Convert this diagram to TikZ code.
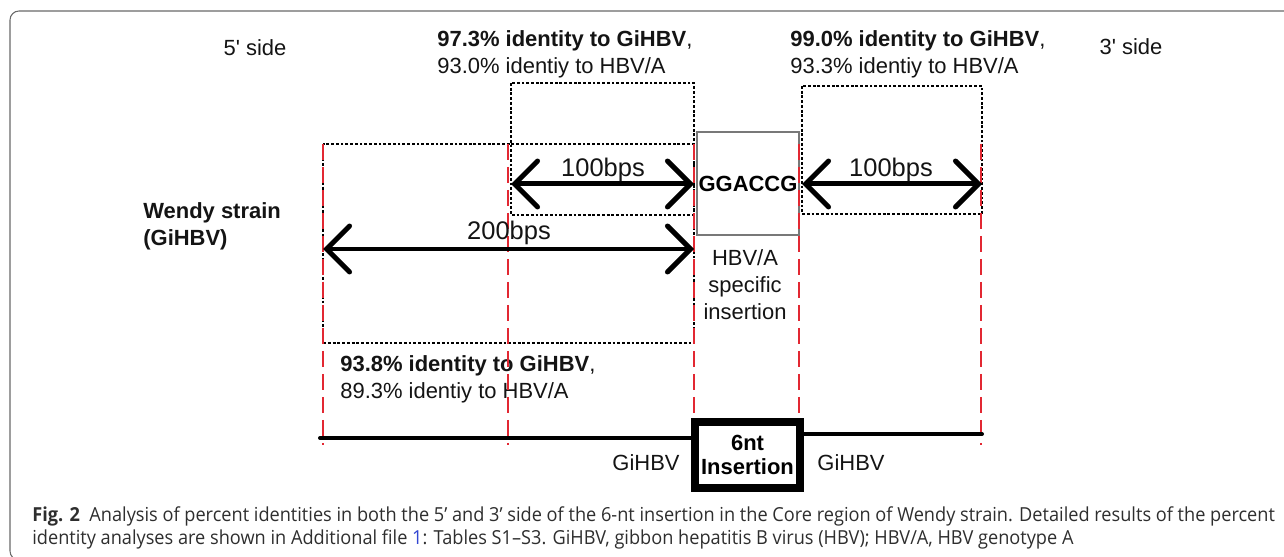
\documentclass[tikz,border=0pt]{standalone}
\usepackage{fontspec}
\setmainfont{Liberation Sans}
\newfontfamily\capfont[FakeStretch=0.94]{Open Sans}
\usetikzlibrary{arrows.meta}

\definecolor{cutred}{RGB}{226,40,50}
\definecolor{framegray}{RGB}{105,105,105}
\definecolor{boxgray}{RGB}{120,120,120}
\definecolor{linkblue}{RGB}{50,70,210}

\begin{document}
\begin{tikzpicture}[x=0.02cm,y=-0.02cm,
    lbl/.style={font=\fontsize{12.5}{15.3}\selectfont, inner sep=0pt, align=left, text=black!92},
    bplbl/.style={font=\fontsize{14.5}{16}\selectfont, inner sep=0pt, text=black!92},
    region/.style={draw, line width=0.7pt, dash pattern=on 1.6pt off 1.1pt},
    cut/.style={draw=cutred, line width=1.1pt, dash pattern=on 0.32cm off 0.14cm},
    span/.style={line width=0.1cm, line cap=round,
      {Straight Barb[length=0.46cm, width=0.92cm, line cap=round]}-{Straight Barb[length=0.46cm, width=0.92cm, line cap=round]}},
    genome/.style={line width=0.08cm, line cap=round}]
  \useasboundingbox (0,0) rectangle (1284,557);
  \begin{scope}
    \clip (0,0) rectangle (1284,557);
    \draw[framegray, line width=0.6pt, rounded corners=0.18cm] (1300,11) -- (10,11) -- (10,560) -- (40,560);
  \end{scope}

  % side labels
  \node[lbl] (five) at (255,48) {5\textquotesingle{} side};
  \node[lbl] (three) at (1131,47) {3\textquotesingle{} side};
  \node[lbl, anchor=west] (wendy) at (143,226) {\textbf{Wendy strain}\\\textbf{(GiHBV)}};

  % compared regions
  \draw[region] (511,83) rectangle (694,215);
  \draw[region] (323,144) rectangle (694,343);
  \draw[region] (802,86) rectangle (982,214);
  \node[lbl, anchor=west] (idA) at (437,54) {\textbf{97.3\% identity to GiHBV}, \\93.0\% identiy to HBV/A};
  \node[lbl, anchor=west] (idC) at (790,54) {\textbf{99.0\% identity to GiHBV}, \\93.3\% identiy to HBV/A};
  \node[lbl, anchor=west] (idB) at (340,379) {\textbf{93.8\% identity to GiHBV}, \\89.3\% identiy to HBV/A};

  % insertion sequence
  \node[draw=boxgray, line width=0.7pt, minimum width=2.04cm, minimum height=2.06cm, inner sep=0pt,
    font=\fontsize{12.5}{15}\selectfont\bfseries] (seq) at (748,183.5) {GGACCG};
  \node[lbl, align=center] (spec) at (745,285) {HBV/A\\specific\\insertion};

  % red cut lines
  \foreach \cx in {323,508,694,799,981}
    \draw[cut] (\cx,144) -- (\cx,445);

  % spans
  \coordinate (a1) at (511,184);
  \coordinate (a2) at (694,184);
  \coordinate (b1) at (323,249);
  \coordinate (b2) at (694,249);
  \coordinate (c1) at (802,184);
  \coordinate (c2) at (982,184);
  \draw[span] (a1) -- (a2);
  \draw[span] (b1) -- (b2);
  \draw[span] (c1) -- (c2);
  \node[bplbl] (bpA) at (603,170) {100bps};
  \node[bplbl] (bpB) at (509,233) {200bps};
  \node[bplbl] (bpC) at (891,170) {100bps};

  % genome line
  \node[draw, line width=0.16cm, minimum width=2.1cm, minimum height=1.32cm, inner sep=0pt, align=center,
    font=\fontsize{12.5}{13.5}\selectfont\bfseries] (ins) at (747.5,455) {6nt\\Insertion};
  \coordinate (g1) at (320,438);
  \coordinate (g2) at (982,434);
  \draw[genome] (g1) -- (g1 -| ins.west);
  \draw[genome] (ins.east |- g2) -- (g2);
  \node[lbl] (gl) at (646,463) {GiHBV};
  \node[lbl] (gr) at (851,463) {GiHBV};

  % caption
  \node[anchor=west, inner sep=0pt, align=left, text=black!82,
    font=\capfont\fontsize{11}{13}\selectfont] (cap) at (32,528)
    {\textbf{Fig. 2}\ \ Analysis of percent identities in both the 5’ and 3’ side of the 6-nt insertion in the Core region of Wendy strain. Detailed results of the percent\\
     identity analyses are shown in Additional file \textcolor{linkblue}{1}: Tables S1–S3. GiHBV, gibbon hepatitis B virus (HBV); HBV/A, HBV genotype A};
\end{tikzpicture}
\end{document}
